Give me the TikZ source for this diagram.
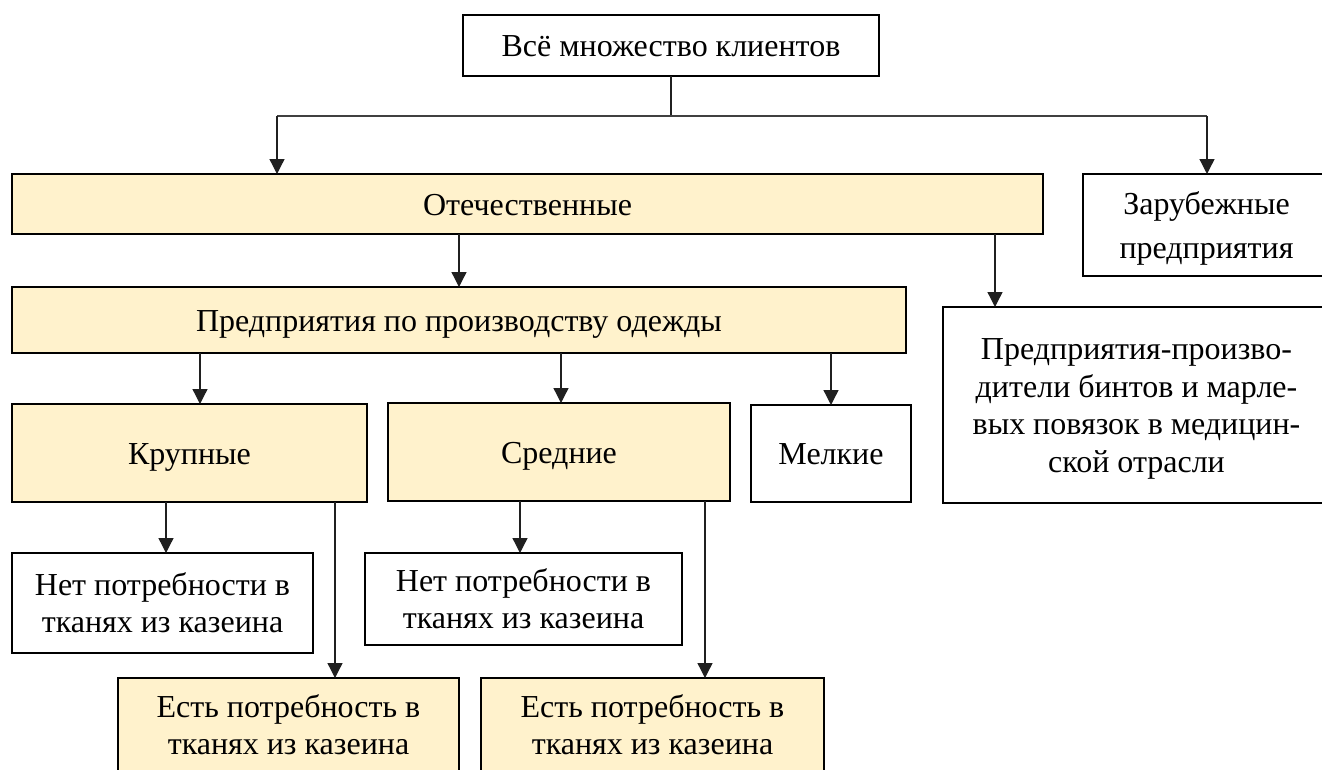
\documentclass[tikz,border=0pt]{standalone}
\usepackage{fontspec}
\setmainfont{Liberation Serif}
\usetikzlibrary{arrows.meta}
\definecolor{boxfill}{HTML}{FFF2CC}
\definecolor{conn}{HTML}{202020}
\newcommand\lstr{\rule[-7.5pt]{0pt}{37.3pt}}
\begin{document}
\begin{tikzpicture}[x=1pt,y=-1pt,
  every node/.style={inner sep=0pt, outer sep=0pt, font=\fontsize{32}{37.5}\selectfont, align=center},
  box/.style={draw=black, line width=2.6pt, fill=white},
  ybox/.style={box, fill=boxfill},
  conline/.style={draw=conn, line width=1.3pt},
  arr/.style={conline, -{Triangle[width=15pt,length=15pt]}}]
\useasboundingbox (0,0) rectangle (1322,769);
\clip (0,0) rectangle (1322,769);
\fill[white] (0,0) rectangle (1322,769);
% boxes
\node[box, minimum width=416pt, minimum height=61pt] (top) at (671,45.5) {\lstr Всё множество клиентов};
\node[ybox, minimum width=1031pt, minimum height=60pt] (otech) at (527.5,204) {\lstr Отечественные};
\node[box, minimum width=247pt, minimum height=102pt, font=\fontsize{32}{44}\selectfont] (zarub) at (1206.5,225) {\lstr Зарубежные\\\lstr предприятия};
\node[ybox, minimum width=894pt, minimum height=66pt] (odezh) at (459,320) {\lstr Предприятия по производству одежды};
\node[box, minimum width=387pt, minimum height=196pt] (medic) at (1136.5,405) {\lstr Предприятия-произво-\\\lstr дители бинтов и марле-\\\lstr вых повязок в медицин-\\\lstr ской отрасли};
\node[ybox, minimum width=355pt, minimum height=98pt] (krup) at (189.5,453) {\lstr Крупные};
\node[ybox, minimum width=342pt, minimum height=98pt] (sred) at (559,452) {\lstr Средние};
\node[box, minimum width=160pt, minimum height=97pt] (melk) at (831,453.5) {\lstr Мелкие};
\node[box, minimum width=301pt, minimum height=100pt] (net1) at (162.5,603) {\lstr Нет потребности в\\\lstr тканях из казеина};
\node[box, minimum width=317pt, minimum height=92pt] (net2) at (523.5,599) {\lstr Нет потребности в\\\lstr тканях из казеина};
\node[ybox, minimum width=341pt, minimum height=94pt] (est1) at (288.5,725) {\lstr Есть потребность в\\\lstr тканях из казеина};
\node[ybox, minimum width=343pt, minimum height=94pt] (est2) at (652.5,725) {\lstr Есть потребность в\\\lstr тканях из казеина};
% connector helper coordinates
\coordinate (hl) at (277,116);
\coordinate (hr) at (1207,116);
\coordinate (xmed) at (995,0);
\coordinate (xkrup) at (200,0);
\coordinate (xsred) at (561,0);
\coordinate (xnet1) at (166,0);
\coordinate (xest1) at (335,0);
\coordinate (xnet2) at (520,0);
\coordinate (xest2) at (705,0);
% connectors
\draw[conline] (top.south) -- (top.south|-hl);
\draw[conline, draw=black!75] (hl) -- (hr);
\draw[arr] (hl) -- (hl|-otech.north);
\draw[arr] (hr) -- (hr|-zarub.north);
\draw[arr] (odezh|-otech.south) -- (odezh.north);
\draw[arr] (xmed|-otech.south) -- (xmed|-medic.north);
\draw[arr] (xkrup|-odezh.south) -- (xkrup|-krup.north);
\draw[arr] (xsred|-odezh.south) -- (xsred|-sred.north);
\draw[arr] (melk|-odezh.south) -- (melk.north);
\draw[arr] (xnet1|-krup.south) -- (xnet1|-net1.north);
\draw[arr] (xest1|-krup.south) -- (xest1|-est1.north);
\draw[arr] (xnet2|-sred.south) -- (xnet2|-net2.north);
\draw[arr] (xest2|-sred.south) -- (xest2|-est2.north);
\end{tikzpicture}
\end{document}
